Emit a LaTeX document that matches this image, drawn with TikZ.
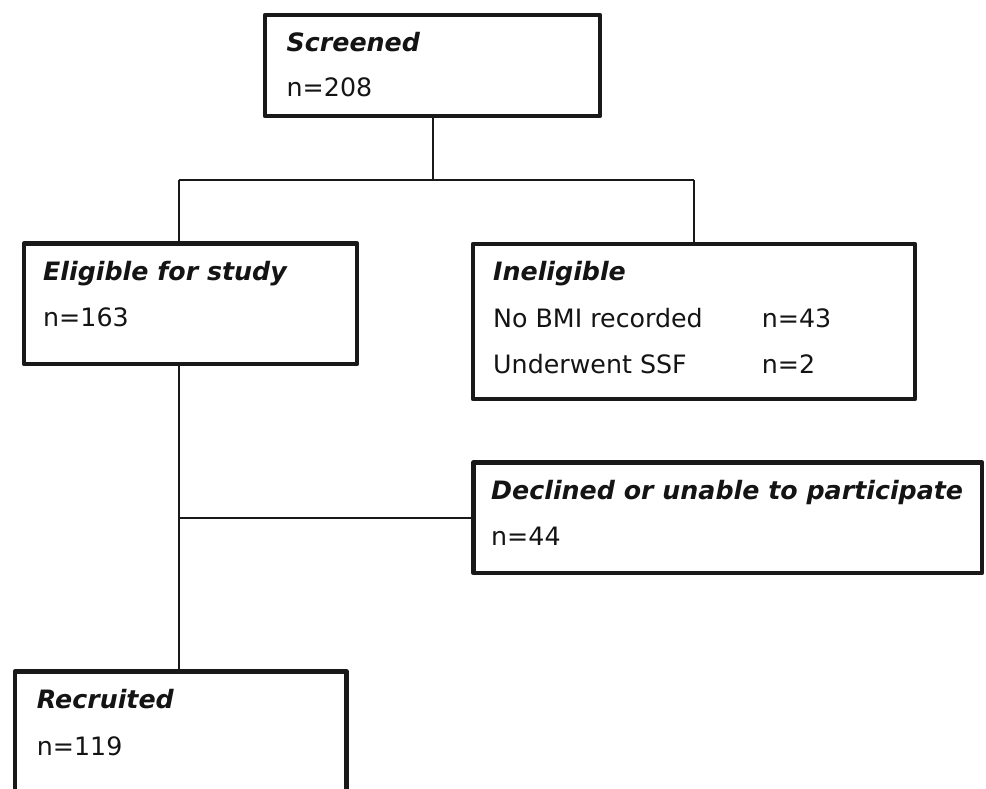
\documentclass[tikz,border=0pt]{standalone}
\usepackage{fontspec}
\setmainfont{DejaVu Sans}
\begin{document}
\begin{tikzpicture}[x=1pt,y=-1pt,
  box/.style={draw=black!90, line width=4.5pt, line join=round, rectangle, inner sep=0pt, fill=none},
  conn/.style={draw=black!90, line width=2pt},
  txt/.style={anchor=base west, inner sep=0pt, font=\fontsize{25.3}{30}\selectfont, text=black!92},
  head/.style={txt, font=\fontsize{25.3}{30}\selectfont\bfseries\itshape}]
\clip (0,0) rectangle (986,788);
\fill[white] (0,0) rectangle (986,788);
% boxes
\node[box, minimum width=335pt, minimum height=101pt] (scr) at (432.5,65.5) {};
\node[box, minimum width=333pt, minimum height=120.5pt] (eli) at (190.5,303.75) {};
\node[box, minimum width=442pt, minimum height=155pt] (ine) at (694,321.5) {};
\node[box, minimum width=508.5pt, minimum height=110.5pt] (dec) at (727.75,517.75) {};
\node[box, minimum width=331.5pt, minimum height=160pt] (rec) at (180.75,751.5) {};
% texts
\node[head] (t1) at (286.5,51.7) {Screened};
\node[txt]  (t2) at (286.5,96.7) {n=208};
\node[head] (t3) at (43,280) {Eligible for study};
\node[txt]  (t4) at (43,326.7) {n=163};
\node[head] (t5) at (493,280.7) {Ineligible};
\node[txt]  (t6) at (493,327.3) {No BMI recorded};
\node[txt]  (t7) at (761.7,327.3) {n=43};
\node[txt]  (t8) at (493,373.3) {Underwent SSF};
\node[txt]  (t9) at (761.7,373.3) {n=2};
\node[head] (t10) at (491,499) {Declined or unable to participate};
\node[txt]  (t11) at (491,545) {n=44};
\node[head] (t12) at (36.7,708.3) {Recruited};
\node[txt]  (t13) at (36.7,755) {n=119};
% connectors
\coordinate (split) at (432.5,180);
\coordinate (lft) at (179,180);
\coordinate (rgt) at (ine.north |- split);
\draw[conn] (scr.south) -- (split);
\draw[conn] (lft) -- (rgt);
\draw[conn] (rgt) -- (ine.north);
\draw[conn] (lft) -- (lft |- eli.north);
\draw[conn] (lft |- eli.south) -- (lft |- rec.north);
\draw[conn] (lft |- dec.west) -- (dec.west);
\end{tikzpicture}
\end{document}
